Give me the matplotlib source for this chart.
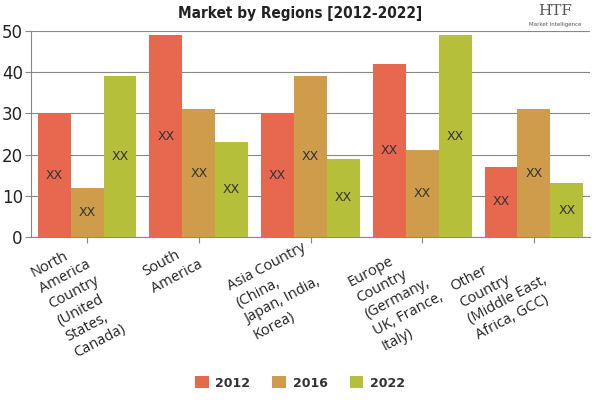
import numpy as np
import matplotlib.pyplot as plt
import matplotlib.transforms as mtransforms

regions = ['North\nAmerica\nCountry\n(United\nStates,\nCanada)', 'South\nAmerica',
           'Asia Country\n(China,\nJapan, India,\nKorea)',
           'Europe\nCountry\n(Germany,\nUK, France,\nItaly)',
           'Other\nCountry\n(Middle East,\nAfrica, GCC)']
years = ['2012', '2016', '2022']
v2012 = [30, 49, 30, 42, 17]
v2016 = [12, 31, 39, 21, 31]
v2022 = [39, 23, 19, 49, 13]
colors = ['#E8674F', '#CE9C4A', '#B5BF3A']

fig = plt.figure(figsize=(6, 4), dpi=100)
ax = fig.add_axes([0.052, 0.4075, 0.931, 0.515])

x = np.arange(len(regions))
w = 0.295
for i, (vals, c, lab) in enumerate(zip([v2012, v2016, v2022], colors, years)):
    pos = x + (i - 1) * w
    ax.bar(pos, vals, width=w, color=c, label=lab, zorder=3)
    for p, v in zip(pos, vals):
        ax.text(p, v / 2, 'XX', ha='center', va='center', fontsize=9, color='#333333', zorder=4)

ax.set_xlim(-0.5, len(regions) - 0.5)
ax.set_ylim(0, 50)
ax.set_yticks([0, 10, 20, 30, 40, 50])
ax.tick_params(axis='y', labelsize=12, length=4, color='#888888', pad=2, labelcolor='#222222')
ax.yaxis.grid(True, color='#888888', lw=0.8, zorder=0)
for s in ['top', 'right']:
    ax.spines[s].set_visible(False)
ax.spines['left'].set_color('#888888')
ax.spines['bottom'].set_color('#888888')

ax.set_xticks(x)
ax.set_xticklabels(regions, rotation=28, ha='right', va='top', rotation_mode='anchor',
                   multialignment='left', fontsize=10.5, family='Open Sans',
                   color='#222222', linespacing=1.3)
ax.tick_params(axis='x', length=4, color='#888888', pad=0)
# labels sit a little left of their ticks
shift = mtransforms.ScaledTranslation(-0.09, 0.02, fig.dpi_scale_trans)
for t in ax.get_xticklabels():
    t.set_transform(t.get_transform() + shift)

fig.text(0.5, 0.966, 'Market by Regions [2012-2022]', ha='center', va='center',
         fontsize=11, fontweight='heavy', fontstretch='condensed', color='#222222')
fig.text(0.925, 0.972, 'HTF', ha='center', va='center', fontsize=11, color='#555555',
         family='DejaVu Serif')
fig.text(0.925, 0.938, 'Market Intelligence', ha='center', va='center', fontsize=4, color='#555555')

fig.legend(loc='center', bbox_to_anchor=(0.5, 0.0425), ncol=3, frameon=False,
           handlelength=1.1, handleheight=1.1, handletextpad=0.55, columnspacing=1.75,
           prop={'weight': 'bold', 'size': 9}, labelcolor='#333333')

fig.savefig('out.png')
